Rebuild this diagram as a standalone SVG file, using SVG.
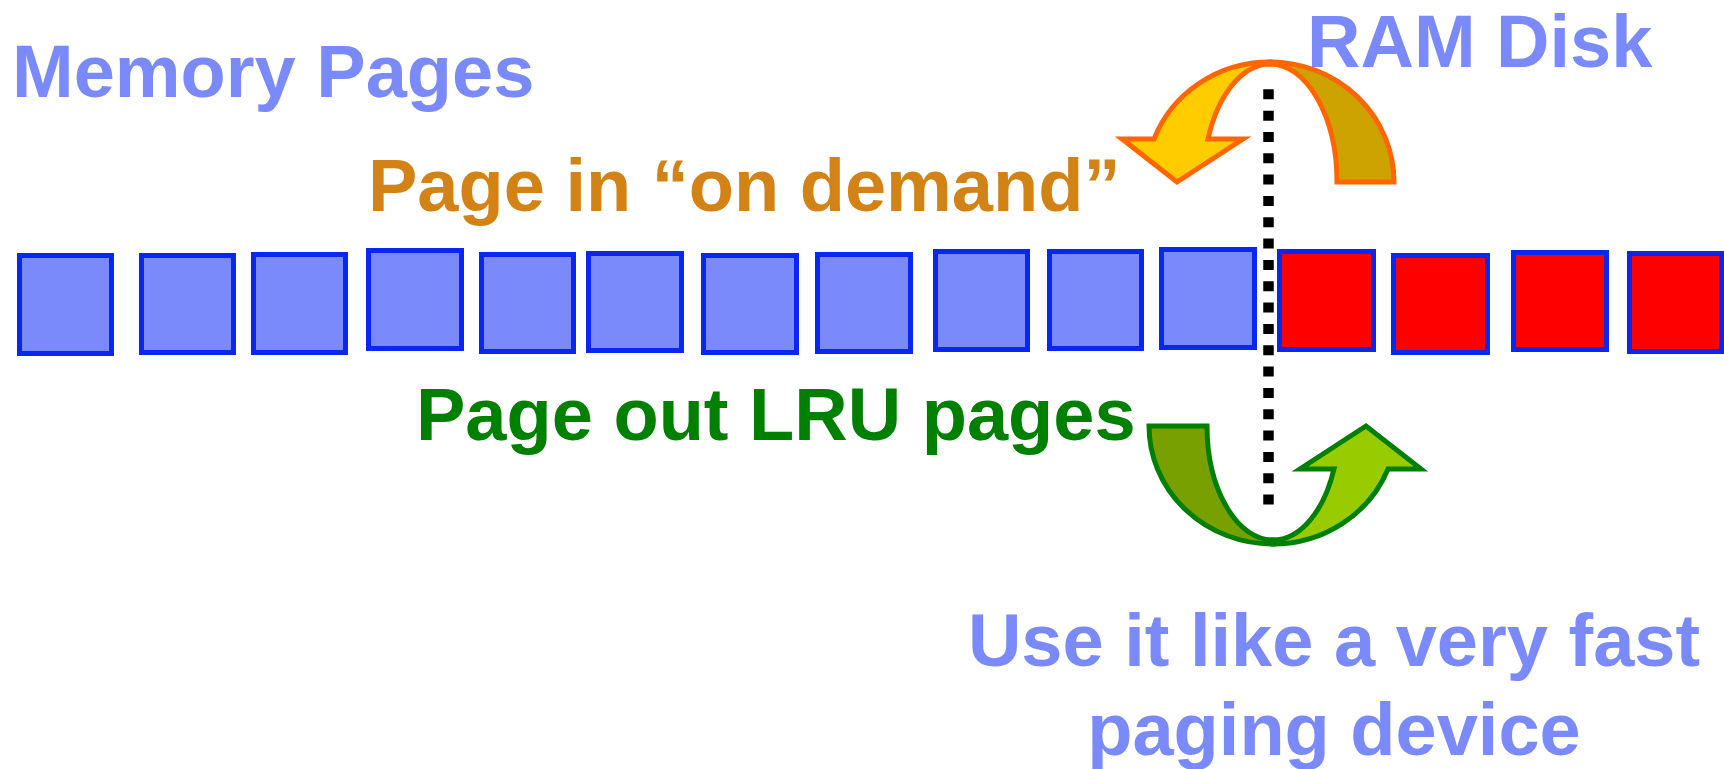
<svg xmlns="http://www.w3.org/2000/svg" width="1724" height="769" viewBox="0 0 1724 769">
  <style>
    .lbl { font-family: "Liberation Sans", Arial, sans-serif; font-weight: bold; font-size: 74px; }
    .blue { fill: #7A8AFA; }
    .orange { fill: #D38316; }
    .green { fill: #008000; }
    .page { stroke: #0A27F0; stroke-width: 5; }
    .mem { fill: #7A8AFA; }
    .disk { fill: #FF0000; }
    .in { stroke: #FF6600; stroke-width: 5; stroke-linejoin: miter; }
    .out { stroke: #008000; stroke-width: 5; stroke-linejoin: miter; }
  </style>

  <rect width="1724" height="769" fill="#FFFFFF"/>

  <!-- titles -->
  <g id="title-memory">
    <text class="lbl blue" x="12" y="97">Memory Pages</text>
  </g>
  <g id="title-ramdisk">
    <text class="lbl blue" x="1307" y="67">RAM Disk</text>
  </g>

  <!-- memory pages (blue) -->
  <g id="memory-pages">
    <rect id="mp1" class="page mem" x="19.5" y="255.5" width="92" height="98"/>
    <rect id="mp2" class="page mem" x="141.5" y="255.5" width="92" height="97"/>
    <rect id="mp3" class="page mem" x="253.5" y="254.5" width="92" height="98"/>
    <rect id="mp4" class="page mem" x="368.5" y="250.5" width="93" height="98"/>
    <rect id="mp5" class="page mem" x="481.5" y="254.5" width="92" height="97"/>
    <rect id="mp6" class="page mem" x="588.5" y="253.5" width="93" height="97"/>
    <rect id="mp7" class="page mem" x="703.5" y="255.5" width="93" height="97"/>
    <rect id="mp8" class="page mem" x="817.5" y="254.5" width="93" height="97"/>
    <rect id="mp9" class="page mem" x="935.5" y="251.5" width="92" height="98"/>
    <rect id="mp10" class="page mem" x="1049.5" y="251.5" width="92" height="97"/>
    <rect id="mp11" class="page mem" x="1161.5" y="249.5" width="93" height="98"/>
  </g>

  <!-- RAM disk pages (red) -->
  <g id="disk-pages">
    <rect id="dp1" class="page disk" x="1279.5" y="251.5" width="94" height="98"/>
    <rect id="dp2" class="page disk" x="1393.5" y="255.5" width="94" height="97"/>
    <rect id="dp3" class="page disk" x="1513.5" y="252.5" width="93" height="97"/>
    <rect id="dp4" class="page disk" x="1629.5" y="253.5" width="92" height="98"/>
  </g>

  <!-- boundary and paging arrows -->
  <g id="connectors">
    <line id="boundary" x1="1268.5" y1="89.3" x2="1268.5" y2="505" stroke="#000000" stroke-width="10.5" stroke-dasharray="10 11.33"/>

    <!-- page in: curved arrow over the top -->
    <g id="page-in-arrow">
      <path class="in" fill="#CCA300" d="M 1270 62 A 124 120 0 0 1 1394 182 L 1337 182 A 67 118 0 0 0 1270 64 Z"/>
      <path class="in" fill="#FFCC00" d="M 1270 62 A 124 120 0 0 0 1154 139 L 1122 139 L 1177 182 L 1243 139 L 1208 139 A 67 118 0 0 1 1270 64 Z"/>
    </g>

    <!-- page out: curved arrow under the bottom -->
    <g id="page-out-arrow">
      <path class="out" fill="#77A000" d="M 1149 426 A 124 118 0 0 0 1273 544 L 1273 540 A 66 114 0 0 1 1207 426 Z"/>
      <path class="out" fill="#99CC00" d="M 1273 544 A 124 118 0 0 0 1388 469 L 1421 469 L 1366 426 L 1300 469 L 1334 469 A 66 114 0 0 1 1273 540 Z"/>
    </g>
  </g>

  <!-- arrow labels -->
  <g id="label-page-in">
    <text class="lbl orange" x="368" y="211">Page in “on demand”</text>
  </g>
  <g id="label-page-out">
    <text class="lbl green" x="416" y="440">Page out LRU pages</text>
  </g>
  <g id="label-usage">
    <text class="lbl blue" text-anchor="middle" x="1334" y="666">Use it like a very fast</text>
    <text class="lbl blue" text-anchor="middle" x="1334" y="755">paging device</text>
  </g>
</svg>
